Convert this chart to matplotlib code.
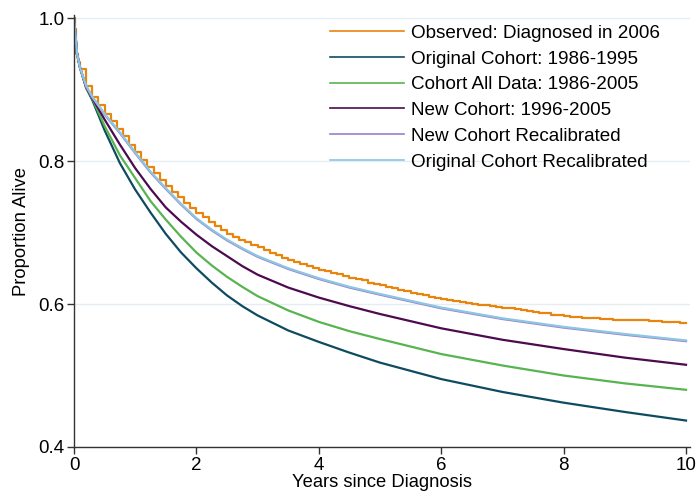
import matplotlib
matplotlib.use("Agg")
import matplotlib.pyplot as plt

plt.rcParams['font.family'] = ['Liberation Sans', 'DejaVu Sans']

# Observed (step function)
obs_x = [0.0, 0.02, 0.04, 0.07] + [round(0.1 * i, 1) for i in range(1, 101)]
obs_y = [1.000, 0.985, 0.950, 0.938,
         0.928, 0.905, 0.890, 0.878, 0.866, 0.856, 0.845, 0.835, 0.823, 0.812,
         0.802, 0.792, 0.783, 0.774, 0.765, 0.757, 0.749, 0.741, 0.734, 0.727,
         0.721, 0.715, 0.709, 0.703, 0.698, 0.694, 0.690, 0.687, 0.683, 0.680,
         0.676, 0.672, 0.669, 0.665, 0.662, 0.659, 0.656, 0.653, 0.651, 0.648,
         0.646, 0.644, 0.642, 0.639, 0.637, 0.635, 0.633, 0.630, 0.628, 0.626,
         0.624, 0.622, 0.620, 0.618, 0.616, 0.614, 0.612, 0.610, 0.609, 0.607,
         0.606, 0.604, 0.603, 0.601, 0.600, 0.599, 0.598, 0.597, 0.596, 0.595,
         0.594, 0.593, 0.591, 0.590, 0.589, 0.588, 0.587, 0.585, 0.584, 0.583,
         0.582, 0.582, 0.581, 0.580, 0.580, 0.579, 0.579, 0.578, 0.578, 0.578,
         0.577, 0.577, 0.577, 0.576, 0.576, 0.575, 0.575, 0.575, 0.574, 0.574]

# Model curves
years = [0.0, 0.05, 0.1, 0.2, 0.3, 0.4, 0.5, 0.75, 1.0, 1.25, 1.5, 1.75, 2.0,
         2.25, 2.5, 2.75, 3.0, 3.5, 4.0, 4.5, 5.0, 6.0, 7.0, 8.0, 9.0, 10.0]
original_cohort = [1.000, 0.950, 0.930, 0.902, 0.885, 0.864, 0.843, 0.797, 0.760,
                   0.728, 0.698, 0.672, 0.650, 0.630, 0.612, 0.597, 0.584, 0.563,
                   0.547, 0.532, 0.518, 0.495, 0.477, 0.462, 0.449, 0.437]
all_data = [1.000, 0.950, 0.930, 0.902, 0.887, 0.868, 0.849, 0.808, 0.776, 0.744,
            0.718, 0.694, 0.672, 0.654, 0.638, 0.624, 0.611, 0.591, 0.575, 0.562,
            0.551, 0.530, 0.514, 0.500, 0.489, 0.480]
new_cohort = [1.000, 0.950, 0.930, 0.903, 0.888, 0.873, 0.858, 0.823, 0.790, 0.761,
              0.735, 0.715, 0.697, 0.681, 0.667, 0.653, 0.641, 0.623, 0.609, 0.597,
              0.586, 0.566, 0.550, 0.537, 0.525, 0.515]
new_recal = [1.000, 0.950, 0.930, 0.904, 0.889, 0.877, 0.865, 0.839, 0.811, 0.784,
             0.761, 0.739, 0.719, 0.703, 0.689, 0.677, 0.666, 0.649, 0.635, 0.623,
             0.613, 0.594, 0.579, 0.567, 0.557, 0.548]
orig_recal = [1.000, 0.950, 0.930, 0.905, 0.890, 0.878, 0.866, 0.840, 0.812, 0.785,
              0.762, 0.740, 0.720, 0.704, 0.690, 0.678, 0.667, 0.650, 0.636, 0.624,
              0.614, 0.595, 0.580, 0.568, 0.558, 0.549]

labels = ["Observed: Diagnosed in 2006", "Original Cohort: 1986-1995",
          "Cohort All Data: 1986-2005", "New Cohort: 1996-2005",
          "New Cohort Recalibrated", "Original Cohort Recalibrated"]
colors = ["#E8850C", "#0E4B60", "#58B450", "#4E0A4E", "#9B7FCC", "#8CC6E2"]

fig = plt.figure(figsize=(7.0, 4.93), dpi=100)
ax = fig.add_axes([74 / 700, 46 / 493, (690 - 74) / 700, (478 - 46) / 493])

lw = 1.6
ax.plot(obs_x, obs_y, drawstyle='steps-post', color=colors[0], lw=lw, label=labels[0])
ax.plot(years, original_cohort, color=colors[1], lw=lw, label=labels[1])
ax.plot(years, all_data, color=colors[2], lw=lw, label=labels[2])
ax.plot(years, new_cohort, color=colors[3], lw=lw, label=labels[3])
ax.plot(years, new_recal, color=colors[4], lw=lw, label=labels[4])
ax.plot(years, orig_recal, color=colors[5], lw=lw, label=labels[5])

ax.set_xlim(0, 10.065)
ax.set_ylim(0.4, 1.0042)
ax.set_xticks([0, 2, 4, 6, 8, 10])
ax.set_yticks([0.4, 0.6, 0.8, 1.0])
ax.set_yticklabels(["0.4", "0.6", "0.8", "1.0"])
ax.yaxis.grid(True, color="#e4edf1", lw=1.0)
ax.set_axisbelow(True)
for s in ["top", "right"]:
    ax.spines[s].set_visible(False)
for s in ["left", "bottom"]:
    ax.spines[s].set_color("#333333")
    ax.spines[s].set_linewidth(1.0)
ax.tick_params(axis='both', direction='out', length=5, width=1.0, colors="#333333",
               labelsize=13.5, labelcolor="black", pad=2)

ax.set_xlabel("Years since Diagnosis", fontsize=13.2, labelpad=0)
ax.set_ylabel("Proportion Alive", fontsize=13.2, labelpad=6)

leg = ax.legend(loc='upper left', bbox_to_anchor=(0.403, 0.995), frameon=False,
                fontsize=13.6, handlelength=3.95, handletextpad=0.36,
                labelspacing=0.45, borderaxespad=0.0)
for line in leg.get_lines():
    line.set_linewidth(1.2)

fig.savefig("out.png", dpi=100)
